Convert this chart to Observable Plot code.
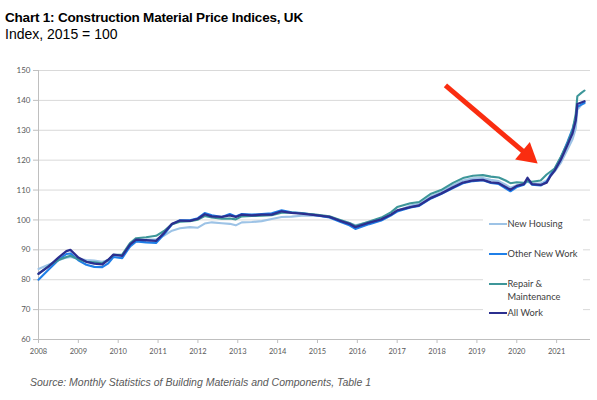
<!DOCTYPE html>
<html>
<head>
<meta charset="utf-8">
<script src="https://cdn.jsdelivr.net/npm/d3@7"></script>
<script src="https://cdn.jsdelivr.net/npm/@observablehq/plot@0.6"></script>
<style>
  html, body { margin: 0; padding: 0; background: #fff; }
  #page { position: relative; width: 597px; height: 400px; overflow: hidden; background: #fff; }
  .abs { position: absolute; white-space: nowrap; }
  #title { left: 5px; top: 11px; font: bold 13.5px/13.5px "Liberation Sans", Arial, sans-serif; letter-spacing: -0.2px; color: #000; }
  #subtitle { left: 5px; top: 26.5px; font: 14px/14px "Liberation Sans", Arial, sans-serif; color: #000; }
  #source { left: 30px; top: 377px; font: italic 10.5px/10.5px "Liberation Sans", Arial, sans-serif; color: #595959; }
  #chart { position: absolute; left: 0; top: 56px; }
  #legend { position: absolute; left: 483px; top: 211px; width: 100px; height: 114px; background: #fff; }
  .lg-sym { position: absolute; width: 18px; height: 2px; }
  .lg-txt { position: absolute; font: 9.3px/12px Lato, "Open Sans", sans-serif; color: #404040; white-space: nowrap; }
</style>
</head>
<body>
<div id="page">
  <div id="title" class="abs"></div>
  <div id="subtitle" class="abs"></div>
  <div id="chart"></div>
  <div id="legend"></div>
  <div id="source" class="abs"></div>
</div>
<script>
// ---- Text ----
const titleText = "Chart 1: Construction Material Price Indices, UK";
const subtitleText = "Index, 2015 = 100";
const sourceText = "Source: Monthly Statistics of Building Materials and Components, Table 1";

// ---- Axis ticks ----
const yearTicks = [2008, 2009, 2010, 2011, 2012, 2013, 2014, 2015, 2016, 2017, 2018, 2019, 2020, 2021];
const yTicks = [60, 70, 80, 90, 100, 110, 120, 130, 140, 150];

// ---- Series (decimal year, index values) ----
const dates = [
  2008.0, 2008.25, 2008.5, 2008.7, 2008.8, 2009.0, 2009.2, 2009.4, 2009.6, 2009.75,
  2009.88, 2010.1, 2010.3, 2010.45, 2010.7, 2010.95, 2011.15, 2011.35, 2011.55, 2011.8,
  2012.0, 2012.17, 2012.35, 2012.6, 2012.8, 2012.95, 2013.1, 2013.35, 2013.6, 2013.85,
  2014.1, 2014.35, 2014.6, 2014.95, 2015.3, 2015.55, 2015.8, 2015.95, 2016.3, 2016.6,
  2016.85, 2017.0, 2017.33, 2017.55, 2017.85, 2018.1, 2018.4, 2018.65, 2018.9, 2019.15,
  2019.35, 2019.55, 2019.72, 2019.84, 2020.0, 2020.18, 2020.27, 2020.38, 2020.6, 2020.75,
  2020.85, 2020.95, 2021.1, 2021.27, 2021.4, 2021.48, 2021.52, 2021.62, 2021.7
];
const newHousing = [
  83.6, 85.0, 86.5, 87.4, 87.6, 87.0, 86.6, 86.4, 86.0, 86.6,
  88.0, 88.2, 91.0, 92.8, 93.4, 93.4, 94.8, 96.4, 97.2, 97.6,
  97.4, 98.8, 99.2, 98.9, 98.7, 98.2, 99.2, 99.3, 99.6, 100.3,
  101.0, 101.1, 101.4, 101.5, 101.0, 100.0, 99.0, 98.2, 99.3, 100.0,
  101.5, 103.0, 104.8, 105.4, 107.9, 109.3, 111.6, 113.2, 113.9, 114.0,
  113.4, 113.0, 111.8, 110.8, 111.6, 112.0, 112.8, 112.2, 112.2, 113.2,
  114.8, 116.2, 119.0, 123.5, 127.0, 130.5, 136.8, 138.5, 139.0
];
const otherNewWork = [
  80.0, 83.3, 86.6, 88.6, 88.8, 86.5, 85.0, 84.3, 84.2, 85.5,
  87.6, 87.2, 91.2, 92.8, 92.5, 92.3, 95.2, 98.5, 99.9, 99.9,
  100.6, 102.3, 101.6, 101.0, 102.0, 101.2, 102.0, 101.8, 102.0, 102.2,
  103.2, 102.6, 102.3, 101.6, 100.8, 99.5, 98.2, 97.0, 98.6, 99.8,
  101.6, 102.8, 104.2, 104.7, 107.2, 108.7, 110.7, 112.3, 113.0, 113.3,
  112.4, 112.0, 110.6, 109.6, 111.0, 111.8, 113.5, 111.8, 111.5, 112.8,
  115.2, 117.0, 120.6, 126.0, 130.5, 134.0, 137.8, 138.6, 139.2
];
const repairMaintenance = [
  82.0, 84.6, 86.6, 87.6, 88.0, 86.8, 86.0, 85.8, 85.5, 86.6,
  88.3, 88.4, 92.3, 93.9, 94.2, 94.7, 96.3, 98.6, 99.4, 99.6,
  100.1, 101.3, 100.8, 100.4, 100.5, 100.2, 101.2, 101.3, 101.4, 101.6,
  102.4, 102.5, 102.2, 101.8, 101.2, 100.1, 99.0, 98.0, 99.5, 100.8,
  102.6, 104.3, 105.6, 106.0, 108.8, 110.0, 112.4, 114.0, 114.8, 115.0,
  114.5, 114.2, 113.2, 112.3, 112.6, 112.4, 113.0, 112.8, 113.2, 115.2,
  116.2, 117.2, 121.0, 125.6, 130.0, 135.5, 141.4, 142.5, 143.3
];
const allWork = [
  82.0, 84.4, 87.4, 89.6, 90.0, 87.4, 86.0, 85.4, 85.1, 86.7,
  88.4, 88.0, 91.8, 93.4, 93.2, 93.0, 95.6, 98.7, 99.8, 99.7,
  100.4, 101.9, 101.2, 101.0, 101.5, 101.0, 101.8, 101.5, 101.8, 101.8,
  102.9, 102.4, 102.1, 101.6, 101.0, 99.8, 98.7, 97.6, 99.1, 100.2,
  101.8, 103.2, 104.3, 104.9, 107.4, 108.8, 110.9, 112.5, 113.2, 113.4,
  112.6, 112.3, 111.0, 110.1, 111.4, 112.0, 114.1, 112.0, 111.7, 112.5,
  114.8, 116.5, 120.0, 125.0, 129.0, 133.3, 138.8, 139.3, 139.7
];

const seriesNames = ["New Housing", "Other New Work", "Repair & Maintenance", "All Work"];
const seriesValues = [newHousing, otherNewWork, repairMaintenance, allWork];
const seriesColors = ["#9dc3e6", "#1f7fe8", "#3d9699", "#2b2f8f"];

// ---- Annotation arrow (data coordinates) ----
const arrowTail = {x: 2018.21, y: 145.0};
const arrowHead = {x: 2020.27, y: 121.7};

// ---- Build ----
document.getElementById("title").textContent = titleText;
document.getElementById("subtitle").textContent = subtitleText;
document.getElementById("source").textContent = sourceText;

const lineMarks = seriesValues.map((vals, i) =>
  Plot.line(dates.map((t, j) => ({t, v: vals[j]})), {
    x: "t", y: "v", stroke: seriesColors[i], strokeWidth: i === 3 ? 2.3 : 2.1,
    strokeLinejoin: "round", strokeLinecap: "round"
  })
);

const chart = Plot.plot({
  width: 597,
  height: 314,
  marginTop: 14,
  marginBottom: 31,
  marginLeft: 38,
  marginRight: 7,
  style: {fontFamily: "Lato, 'Open Sans', sans-serif", fontSize: "8px", color: "#595959", background: "white", overflow: "visible"},
  x: {domain: [2008, 2021.85], label: null},
  y: {domain: [60, 150], label: null},
  marks: [
    Plot.gridY(yTicks, {stroke: "#d9d9d9", strokeOpacity: 1}),
    Plot.ruleY([60], {stroke: "#bfbfbf"}),
    Plot.ruleX([2008], {stroke: "#bfbfbf"}),
    Plot.axisY(yTicks, {tickSize: 5, tickPadding: 3, stroke: "#bfbfbf", fill: "#595959", fontSize: 8, label: null}),
    Plot.axisX(yearTicks, {tickSize: 4, tickPadding: 5, stroke: "#bfbfbf", fill: "#595959", fontSize: 7.5, tickFormat: d => String(d), label: null}),
    ...lineMarks,
    Plot.link([{x1: arrowTail.x, y1: arrowTail.y, x2: arrowHead.x, y2: arrowHead.y}], {
      x1: "x1", y1: "y1", x2: "x2", y2: "y2", stroke: "#fa2d10", strokeWidth: 5, strokeLinecap: "butt"
    }),
    Plot.dot([arrowHead], {x: "x", y: "y", symbol: "triangle", r: 8.5, rotate: 130, fill: "#fa2d10", stroke: "none"})
  ]
});
document.getElementById("chart").appendChild(chart);

// ---- Legend ----
const legend = document.getElementById("legend");
const legendTop = 211, legendLeft = 483;
const rows = [
  {i: 0, lines: ["New Housing"], y: 224},
  {i: 1, lines: ["Other New Work"], y: 254},
  {i: 2, lines: ["Repair &", "Maintenance"], y: 284},
  {i: 3, lines: ["All Work"], y: 313}
];
rows.forEach(r => {
  const sym = document.createElement("div");
  sym.className = "lg-sym";
  sym.style.background = seriesColors[r.i];
  sym.style.left = (489 - legendLeft) + "px";
  sym.style.top = (r.y - 1 - legendTop) + "px";
  legend.appendChild(sym);
  r.lines.forEach((ln, k) => {
    const t = document.createElement("div");
    t.className = "lg-txt";
    t.textContent = ln;
    t.style.left = (507.5 - legendLeft) + "px";
    t.style.top = (r.y - 6 + k * 13 - legendTop) + "px";
    legend.appendChild(t);
  });
});
</script>
</body>
</html>
